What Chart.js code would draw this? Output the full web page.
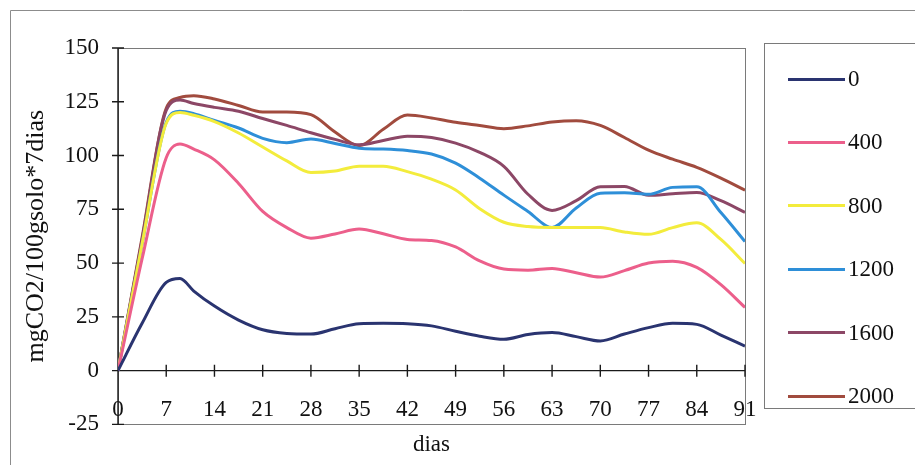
<!DOCTYPE html>
<html>
<head>
<meta charset="utf-8">
<script src="https://cdn.jsdelivr.net/npm/chart.js@4.4.1/dist/chart.umd.min.js"></script>
<style>
  html, body { margin: 0; padding: 0; background: #fff; }
  #wrap { position: relative; width: 915px; height: 465px; overflow: hidden; }
  #chart { position: absolute; left: 0; top: 0; }
  #legend {
    position: absolute; left: 764px; top: 43px; width: 170px; height: 366px;
    border: 1px solid #7a7a7a; box-sizing: border-box;
    font-family: "Liberation Serif", "Times New Roman", serif; font-size: 23px; color: #111;
  }
  .item { position: absolute; left: 0; height: 28px; display: flex; align-items: center; }
  .swatch { width: 57px; height: 3px; margin-left: 23px; margin-right: 3px; }
</style>
</head>
<body>
<div id="wrap">
  <canvas id="chart" width="915" height="465"></canvas>
  <div id="legend"></div>
</div>
<script>
// Incubation days (x) and CO2 release per treatment dose (y)
const days = [0, 3.5, 7, 9, 11, 14, 17.5, 21, 24.5, 28, 31.5, 35, 38.5, 42, 45.5, 49, 52.5, 56, 59.5, 63, 66.5, 70, 73.5, 77, 80.5, 84, 87.5, 91];

const dose0    = [0, 22, 41, 42.8, 37, 30, 23.5, 19, 17.3, 17, 19.5, 21.8, 22, 21.8, 20.8, 18.3, 16, 14.6, 16.8, 17.7, 15.8, 13.8, 17, 20, 22, 21.5, 16.5, 11.4];
const dose400  = [0, 52, 99, 105.4, 103, 98, 87, 74, 66.5, 61.6, 63.5, 65.8, 63.6, 61, 60.5, 57.5, 51, 47.2, 46.7, 47.5, 45.5, 43.5, 46.5, 50, 50.9, 48, 40, 29.4];
const dose800  = [0, 59, 115, 120, 118.7, 115.8, 110.5, 104, 97.5, 92.1, 92.8, 95, 95, 92.5, 89, 84, 75.3, 69, 67, 66.6, 66.6, 66.5, 64.5, 63.4, 66.5, 68.7, 61, 49.8];
const dose1200 = [0, 59, 115.5, 120.6, 119.5, 116.3, 112.8, 108, 106, 107.7, 105.6, 103.4, 103, 102.3, 100.7, 96.5, 89.5, 81.6, 74, 66.5, 75.6, 82.5, 82.7, 82, 85.2, 85.5, 73.5, 60];
const dose1600 = [0, 61, 121, 125.8, 124.2, 122.4, 120.6, 117.2, 114, 110.6, 107.5, 105, 107, 109, 108.4, 105.8, 101.5, 95, 82, 74.5, 79, 85.5, 85.6, 81.5, 82.2, 82.8, 79, 73.6];
const dose2000 = [0, 62, 122, 127, 127.8, 126.3, 123.3, 120.2, 120.2, 119, 110.9, 104.6, 112.2, 118.8, 117.5, 115.5, 114, 112.5, 113.8, 115.6, 116.2, 114, 108.4, 102.5, 98.3, 94.5, 89.5, 83.9];

const seriesNames = ['0', '400', '800', '1200', '1600', '2000'];
const seriesValues = [dose0, dose400, dose800, dose1200, dose1600, dose2000];
const seriesColors = ['#2a3470', '#ec5f8b', '#f3ec3c', '#2e8fd8', '#8c4766', '#a14b3e'];

const yTickMin = -25, yTickMax = 150, yTickStep = 25;
const xTickMin = 0, xTickMax = 91, xTickStep = 7;

const serif = '"Liberation Serif", "Times New Roman", serif';

// Axis lines with crossing tick marks, plus the plot frame and outer frame
const axesPlugin = {
  id: 'axesPlugin',
  beforeDraw(chart) {
    const { ctx, chartArea: a } = chart;
    ctx.save();
    ctx.strokeStyle = '#8c8c8c';
    ctx.lineWidth = 1;
    ctx.beginPath();
    ctx.moveTo(10.5, 465);
    ctx.lineTo(10.5, 10.5);
    ctx.lineTo(915, 10.5);
    ctx.stroke();
    ctx.strokeStyle = '#7a7a7a';
    ctx.strokeRect(Math.round(a.left) + 0.5, Math.round(a.top) + 0.5, Math.round(a.right - a.left), Math.round(a.bottom - a.top));
    ctx.restore();
  },
  beforeDatasetsDraw(chart) {
    const { ctx, chartArea: a, scales: { x, y } } = chart;
    const x0 = x.getPixelForValue(0);
    const y0 = y.getPixelForValue(0);
    ctx.save();
    ctx.strokeStyle = '#1a1a1a';
    ctx.lineWidth = 1.4;
    ctx.beginPath();
    ctx.moveTo(x0, a.top);
    ctx.lineTo(x0, a.bottom);
    ctx.moveTo(a.left, y0);
    ctx.lineTo(a.right, y0);
    y.ticks.forEach(t => {
      const py = y.getPixelForValue(t.value);
      ctx.moveTo(x0 - 6, py);
      ctx.lineTo(x0 + 6, py);
    });
    x.ticks.forEach(t => {
      const px = x.getPixelForValue(t.value);
      ctx.moveTo(px, y0 - 6);
      ctx.lineTo(px, y0 + 6);
    });
    ctx.stroke();
    ctx.restore();
  }
};

const datasets = seriesNames.map((name, i) => ({
  label: name,
  data: days.map((d, k) => ({ x: d, y: seriesValues[i][k] })),
  borderColor: seriesColors[i],
  backgroundColor: seriesColors[i],
  borderWidth: 3,
  pointRadius: 0,
  cubicInterpolationMode: 'monotone',
  fill: false
}));

new Chart(document.getElementById('chart'), {
  type: 'line',
  data: { datasets },
  options: {
    responsive: false,
    animation: false,
    layout: { padding: { left: 10, right: 170, top: 48, bottom: 6 } },
    plugins: {
      legend: { display: false },
      tooltip: { enabled: false },
      title: {
        display: true,
        text: 'dias',
        position: 'bottom',
        fullSize: false,
        color: '#111',
        font: { family: serif, size: 23, weight: 'normal' },
        padding: { top: 7, bottom: 0 }
      }
    },
    scales: {
      x: {
        type: 'linear',
        position: { y: 0 },
        min: xTickMin,
        max: xTickMax,
        grid: { display: false, drawTicks: false },
        border: { display: false },
        ticks: {
          stepSize: xTickStep,
          autoSkip: false,
          maxRotation: 0,
          padding: 26,
          color: '#111',
          font: { family: serif, size: 23 }
        }
      },
      y: {
        type: 'linear',
        position: 'left',
        min: yTickMin,
        max: yTickMax,
        afterFit: (scale) => { scale.width = 108; },
        grid: { display: false, drawTicks: false },
        border: { display: false },
        ticks: {
          stepSize: yTickStep,
          padding: 19,
          color: '#111',
          font: { family: serif, size: 23 }
        },
        title: {
          display: true,
          text: 'mgCO2/100gsolo*7dias',
          color: '#111',
          font: { family: serif, size: 26, weight: 'normal' },
          padding: { top: 11, bottom: 0 }
        }
      }
    }
  },
  plugins: [axesPlugin]
});

// Legend box built from the series names and colours
const legend = document.getElementById('legend');
seriesNames.forEach((name, i) => {
  const item = document.createElement('div');
  item.className = 'item';
  item.style.top = (21 + i * 63.4) + 'px';
  const sw = document.createElement('span');
  sw.className = 'swatch';
  sw.style.background = seriesColors[i];
  const tx = document.createElement('span');
  tx.textContent = name;
  item.appendChild(sw);
  item.appendChild(tx);
  legend.appendChild(item);
});
</script>
</body>
</html>
